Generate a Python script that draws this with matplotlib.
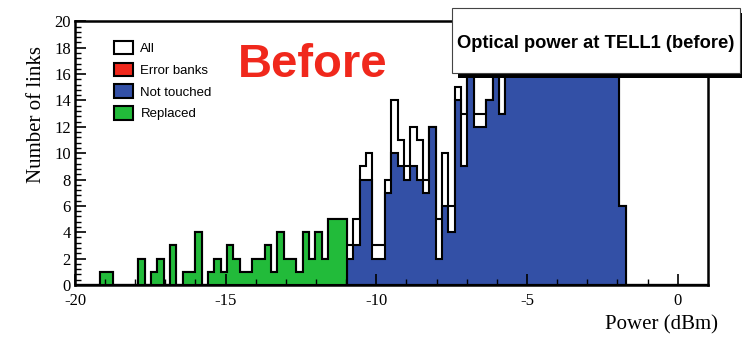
import numpy as np
import matplotlib
matplotlib.use("Agg")
import matplotlib.pyplot as plt
from matplotlib.patches import Patch, Rectangle

plt.rcParams['axes.unicode_minus'] = False

# 100 bins from -20 to 1 dBm
edges = np.linspace(-20, 1, 101)

# counts per bin
replaced = [0, 0, 0, 0, 1, 1, 0, 0, 0, 0,
            2, 0, 1, 2, 0, 3, 0, 1, 1, 4,
            0, 1, 2, 1, 3, 2, 1, 1, 2, 2,
            3, 1, 4, 2, 2, 1, 4, 2, 4, 2,
            5, 5, 5] + [0] * 57

not_touched = [0] * 43 + [2, 3, 8, 8, 2, 2, 7,
                          10, 9, 8, 9, 8, 7, 12, 2, 6, 4,
                          14, 9, 18, 12, 12, 14, 18, 13, 18, 18,
                          18, 18, 18, 18, 18, 18, 18, 18, 18, 18,
                          18, 18, 18, 18, 18, 18, 6] + [0] * 13

all_links = replaced[:43] + [3, 5, 9, 10, 3, 3, 8,
                             14, 11, 9, 12, 11, 8, 12, 5, 10, 6,
                             15, 13, 18, 13, 13, 14, 18, 13, 18, 18,
                             18, 18, 18, 18, 18, 18, 18, 18, 18, 18,
                             18, 18, 18, 18, 18, 18, 6] + [0] * 13

error_banks = [0] * 100

blue = "#3350A6"
green = "#22BB3A"
red = "#F0281C"

fig = plt.figure(figsize=(7.42, 3.4), dpi=100)
ax = fig.add_axes([0.101, 0.162, 0.853, 0.775])

ax.stairs(all_links, edges, fill=True, facecolor="white", edgecolor="black", lw=1.5)
ax.stairs(not_touched, edges, fill=True, facecolor=blue, edgecolor="black", lw=1.5)
ax.stairs(replaced, edges, fill=True, facecolor=green, edgecolor="black", lw=1.5)
ax.stairs(error_banks, edges, fill=True, facecolor=red, edgecolor="black", lw=1.5)

ax.set_xlim(-20, 1)
ax.set_ylim(0, 20)
ax.set_xticks([-20, -15, -10, -5, 0])
ax.set_xticks(np.arange(-20, 1, 1), minor=True)
ax.set_yticks(np.arange(0, 21, 2))
ax.set_yticks(np.arange(0, 20.01, 0.4), minor=True)
ax.tick_params(direction="in", length=8, width=1.2, labelsize=12)
ax.tick_params(axis="x", pad=6)
ax.tick_params(axis="y", pad=3)
ax.tick_params(which="minor", direction="in", length=4, width=1)
for lab in ax.get_xticklabels() + ax.get_yticklabels():
    lab.set_family("Liberation Serif")
for s in ax.spines.values():
    s.set_linewidth(1.8)

fig.text(0.049, 0.662, "Number of links", rotation=90, ha="center", va="center",
         family="Liberation Serif", size=15)
fig.text(0.968, 0.044, "Power (dBm)", ha="right", va="center",
         family="Liberation Serif", size=15)

handles = [Patch(facecolor="white", edgecolor="black", lw=1.5, label="All"),
           Patch(facecolor=red, edgecolor="black", lw=1.5, label="Error banks"),
           Patch(facecolor=blue, edgecolor="black", lw=1.5, label="Not touched"),
           Patch(facecolor=green, edgecolor="black", lw=1.5, label="Replaced")]
leg = ax.legend(handles=handles, loc="upper left", bbox_to_anchor=(0.043, 0.972),
                frameon=False, handlelength=1.4, handleheight=1.2,
                labelspacing=0.58, handletextpad=0.6,
                prop={"family": "Liberation Sans", "size": 9.5})

fig.text(0.422, 0.809, "Before", ha="center", va="center", color=red,
         family="Liberation Sans", weight="bold", size=34)

# title box with shadow
fig.add_artist(Rectangle((458 / 742, 1 - 78 / 340), 288 / 742, 65 / 340,
                         transform=fig.transFigure, facecolor="black",
                         edgecolor="none", zorder=5))
fig.add_artist(Rectangle((452 / 742, 1 - 73 / 340), 288 / 742, 65 / 340,
                         transform=fig.transFigure, facecolor="white",
                         edgecolor="#444444", lw=0.8, zorder=6))
fig.text(0.803, 0.873, "Optical power at TELL1 (before)", ha="center", va="center",
         family="Liberation Sans", weight="bold", size=13.2, zorder=7)

fig.savefig("out.png", dpi=100)
